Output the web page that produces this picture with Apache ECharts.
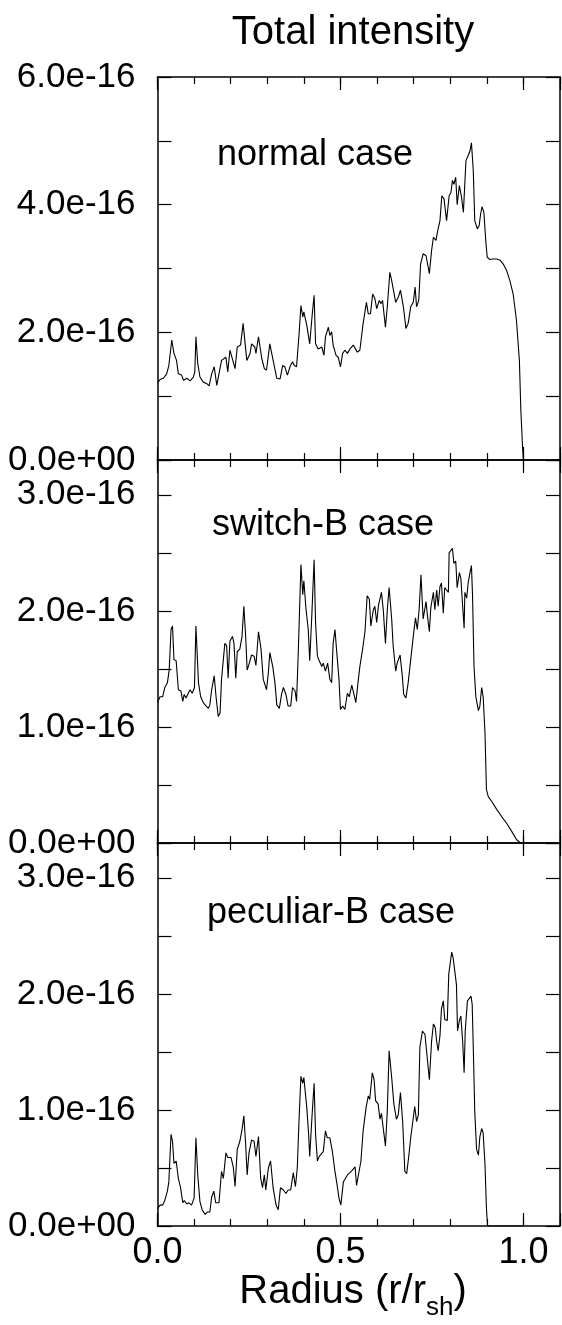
<!DOCTYPE html>
<html>
<head>
<meta charset="utf-8">
<script src="https://cdn.jsdelivr.net/npm/echarts@6/dist/echarts.min.js"></script>
<style>
  html, body { margin: 0; padding: 0; background: #fff; }
  #chart { width: 562px; height: 1325px; }
</style>
</head>
<body>
<div id="chart"></div>
<script>
// values are in units of 1e-16
const normalX = [0.000,0.007,0.016,0.025,0.031,0.039,0.045,0.052,0.057,0.066,0.071,0.080,0.089,0.098,0.102,0.105,0.110,0.116,0.125,0.134,0.141,0.148,0.155,0.162,0.166,0.175,0.180,0.187,0.192,0.198,0.203,0.212,0.218,0.227,0.234,0.244,0.253,0.257,0.266,0.269,0.276,0.285,0.292,0.298,0.307,0.316,0.326,0.335,0.342,0.348,0.355,0.362,0.369,0.374,0.380,0.387,0.392,0.397,0.400,0.408,0.416,0.423,0.428,0.432,0.439,0.449,0.455,0.459,0.467,0.471,0.476,0.480,0.488,0.494,0.500,0.506,0.512,0.519,0.526,0.535,0.540,0.546,0.553,0.562,0.571,0.576,0.582,0.588,0.594,0.599,0.606,0.611,0.615,0.623,0.628,0.635,0.640,0.651,0.658,0.664,0.672,0.679,0.685,0.692,0.699,0.704,0.708,0.714,0.719,0.726,0.734,0.743,0.749,0.754,0.761,0.765,0.772,0.777,0.783,0.790,0.797,0.802,0.806,0.810,0.815,0.819,0.825,0.831,0.836,0.843,0.849,0.854,0.858,0.863,0.867,0.874,0.879,0.883,0.887,0.892,0.897,0.901,0.908,0.917,0.927,0.936,0.945,0.954,0.963,0.972,0.981,0.989,0.993,0.998,1.000];
const normalY = [1.21,1.26,1.28,1.35,1.48,1.88,1.67,1.56,1.35,1.33,1.25,1.28,1.24,1.30,1.38,1.93,1.51,1.30,1.22,1.20,1.16,1.35,1.46,1.17,1.15,1.56,1.54,1.61,1.38,1.72,1.69,1.43,1.77,1.80,2.14,1.56,1.67,1.82,1.77,1.67,1.93,1.59,1.43,1.41,1.82,1.56,1.28,1.27,1.48,1.46,1.33,1.46,1.54,1.48,1.46,1.98,2.42,2.24,2.32,2.11,1.82,2.29,2.58,1.82,1.74,1.77,1.64,1.93,2.08,1.95,2.01,1.80,1.64,1.61,1.46,1.67,1.72,1.67,1.74,1.80,1.82,1.69,1.72,2.14,2.47,2.29,2.29,2.60,2.53,2.37,2.50,2.45,2.50,2.08,2.40,2.94,2.81,2.47,2.55,2.66,2.40,2.06,2.14,2.40,2.47,2.71,2.40,2.50,3.07,3.23,3.20,2.92,3.28,3.49,3.44,3.57,3.75,4.14,4.09,3.75,4.14,4.19,4.38,4.32,4.43,4.00,4.30,4.11,3.88,4.69,4.77,4.84,4.97,4.53,3.75,3.62,3.67,3.85,3.97,3.88,3.44,3.18,3.14,3.15,3.15,3.13,3.07,2.97,2.81,2.60,2.19,1.56,0.78,0.16,0.00];

const switchX = [0.000,0.007,0.014,0.020,0.027,0.032,0.037,0.041,0.045,0.051,0.057,0.064,0.069,0.073,0.078,0.084,0.089,0.095,0.101,0.105,0.112,0.118,0.125,0.133,0.139,0.143,0.148,0.155,0.160,0.166,0.171,0.175,0.180,0.184,0.189,0.193,0.198,0.205,0.209,0.214,0.218,0.225,0.231,0.236,0.241,0.245,0.251,0.257,0.264,0.269,0.276,0.283,0.289,0.294,0.298,0.303,0.307,0.315,0.321,0.326,0.333,0.339,0.344,0.351,0.357,0.364,0.369,0.376,0.380,0.385,0.392,0.397,0.400,0.406,0.412,0.416,0.422,0.428,0.432,0.437,0.442,0.449,0.453,0.459,0.465,0.471,0.476,0.480,0.485,0.490,0.496,0.500,0.506,0.512,0.519,0.524,0.531,0.537,0.542,0.549,0.553,0.561,0.567,0.573,0.579,0.583,0.590,0.594,0.599,0.604,0.608,0.612,0.617,0.623,0.628,0.633,0.640,0.644,0.651,0.655,0.663,0.669,0.673,0.679,0.685,0.692,0.699,0.705,0.710,0.715,0.720,0.726,0.734,0.738,0.743,0.747,0.754,0.758,0.763,0.767,0.772,0.776,0.781,0.785,0.790,0.795,0.797,0.802,0.806,0.810,0.815,0.819,0.825,0.829,0.834,0.838,0.840,0.845,0.849,0.854,0.858,0.861,0.865,0.870,0.877,0.881,0.886,0.890,0.895,0.899,0.904,0.913,0.927,0.940,0.954,0.968,0.981,0.992];
const switchY = [1.21,1.26,1.26,1.34,1.38,1.49,1.84,1.87,1.58,1.57,1.32,1.31,1.22,1.28,1.25,1.29,1.32,1.29,1.34,1.87,1.38,1.26,1.21,1.18,1.16,1.19,1.32,1.44,1.26,1.09,1.12,1.41,1.42,1.72,1.70,1.42,1.74,1.78,1.72,1.42,1.65,1.67,1.78,2.04,1.78,1.49,1.55,1.62,1.61,1.53,1.82,1.67,1.41,1.36,1.32,1.47,1.64,1.52,1.38,1.19,1.16,1.28,1.34,1.28,1.18,1.18,1.34,1.31,1.22,1.67,2.40,2.14,2.26,2.01,1.84,1.57,1.98,2.44,1.90,1.61,1.57,1.52,1.55,1.48,1.55,1.41,1.38,1.72,1.84,1.64,1.41,1.15,1.18,1.15,1.29,1.26,1.36,1.28,1.21,1.41,1.52,1.68,1.82,2.13,2.10,1.87,2.01,2.04,1.90,2.05,2.04,2.16,2.01,1.72,2.01,2.20,1.93,1.70,1.48,1.55,1.62,1.44,1.28,1.25,1.38,1.58,1.78,1.94,1.84,2.01,2.31,1.93,2.08,1.95,1.82,2.03,2.16,2.01,2.18,2.04,2.21,2.24,1.98,2.20,2.18,2.16,2.50,2.49,2.54,2.41,2.43,2.20,2.33,2.28,2.04,1.85,2.16,2.11,2.24,2.33,2.39,2.13,1.52,1.26,1.14,1.18,1.34,1.26,0.95,0.46,0.40,0.36,0.29,0.23,0.17,0.10,0.03,0.00];

const peculiarX = [0.000,0.007,0.014,0.020,0.027,0.031,0.037,0.041,0.045,0.051,0.057,0.063,0.069,0.073,0.080,0.086,0.093,0.100,0.105,0.110,0.116,0.122,0.130,0.136,0.143,0.148,0.154,0.159,0.163,0.168,0.175,0.180,0.187,0.192,0.201,0.207,0.212,0.218,0.225,0.231,0.236,0.241,0.245,0.250,0.257,0.264,0.269,0.276,0.282,0.287,0.292,0.296,0.303,0.309,0.316,0.324,0.330,0.336,0.344,0.351,0.357,0.364,0.371,0.377,0.382,0.387,0.392,0.397,0.400,0.408,0.413,0.416,0.422,0.428,0.432,0.437,0.442,0.447,0.453,0.459,0.464,0.471,0.478,0.485,0.491,0.496,0.501,0.508,0.512,0.519,0.526,0.532,0.540,0.544,0.549,0.556,0.562,0.570,0.576,0.580,0.587,0.592,0.596,0.603,0.608,0.612,0.617,0.623,0.628,0.633,0.640,0.646,0.653,0.658,0.664,0.670,0.676,0.681,0.687,0.692,0.697,0.703,0.708,0.713,0.717,0.724,0.731,0.735,0.743,0.749,0.754,0.759,0.763,0.767,0.772,0.776,0.781,0.785,0.792,0.796,0.799,0.804,0.808,0.813,0.817,0.820,0.825,0.829,0.834,0.838,0.841,0.847,0.852,0.857,0.860,0.863,0.867,0.872,0.877,0.881,0.886,0.890,0.895,0.899,0.902,0.908,1.000];
const peculiarY = [0.15,0.18,0.18,0.22,0.30,0.38,0.79,0.73,0.54,0.56,0.41,0.33,0.20,0.22,0.19,0.20,0.18,0.24,0.76,0.44,0.21,0.14,0.10,0.12,0.12,0.25,0.30,0.20,0.21,0.20,0.47,0.41,0.63,0.59,0.59,0.51,0.34,0.66,0.73,0.83,0.95,0.70,0.44,0.63,0.74,0.73,0.60,0.77,0.41,0.33,0.44,0.31,0.50,0.56,0.33,0.18,0.14,0.33,0.31,0.28,0.31,0.31,0.46,0.34,0.50,0.93,1.29,1.23,1.28,1.02,0.79,0.60,0.93,1.23,0.79,0.56,0.60,0.60,0.64,0.82,0.76,0.76,0.64,0.47,0.35,0.24,0.18,0.38,0.40,0.44,0.46,0.48,0.51,0.35,0.34,0.56,0.82,1.02,1.12,1.09,1.32,1.26,1.08,1.05,0.92,0.97,0.84,0.69,0.99,1.51,1.28,1.05,0.92,0.96,1.15,0.90,0.47,0.45,0.61,0.76,0.77,1.03,0.90,0.96,1.54,1.68,1.65,1.64,1.26,1.59,1.74,1.71,1.59,1.51,1.64,1.87,1.94,1.78,1.77,2.17,2.17,2.36,2.31,2.31,2.08,1.68,1.77,1.81,1.59,1.32,1.68,1.94,1.94,1.98,1.91,1.54,0.99,0.66,0.61,0.77,0.84,0.80,0.53,0.15,0.00,0.00,0.00];

const panelNames = ['normal case', 'switch-B case', 'peculiar-B case'];
const yMaxes = [6, 3.3, 3.3];
const yTickSteps = [1, 0.5, 0.5];
const yLabelSteps = [2, 1, 1];
const yLabelMax = [6, 3, 3];
const xTickLabels = ['0.0', '0.5', '1.0'];

const panels = [
  { x: normalX, y: normalY },
  { x: switchX, y: switchY },
  { x: peculiarX, y: peculiarY }
];

const FONT = 'Liberation Sans';
const gridTops = [77, 460, 843];
const gridH = 383;

const chart = echarts.init(document.getElementById('chart'));

const grids = [], xAxes = [], yAxes = [], series = [], texts = [];
const line = { show: true, onZero: false, lineStyle: { color: '#000', width: 1.5 } };

panels.forEach(function (p, i) {
  grids.push({ left: 157.5, right: 2, top: gridTops[i], height: gridH, outerBoundsMode: 'none', containLabel: false });

  ['bottom', 'top'].forEach(function (pos) {
    xAxes.push({
      type: 'value', gridIndex: i, position: pos, min: 0, max: 1.1, interval: 0.1,
      axisLine: line,
      axisTick: { inside: true, length: 7, lineStyle: { color: '#000', width: 1.2 } },
      axisLabel: { show: false }, splitLine: { show: false }
    });
    const last = (i === 2 && pos === 'bottom');
    xAxes.push({
      type: 'value', gridIndex: i, position: pos, min: 0, max: 1.1, interval: 0.5,
      axisLine: { show: false, onZero: false },
      axisTick: { inside: true, length: 13, lineStyle: { color: '#000', width: 1.2 } },
      axisLabel: {
        show: last, margin: 9, color: '#000', fontFamily: FONT, fontSize: 36,
        formatter: function (v) {
          const k = Math.round(v * 2);
          return k < xTickLabels.length && Math.abs(v * 2 - k) < 1e-6 ? xTickLabels[k] : '';
        }
      },
      splitLine: { show: false }
    });
  });

  ['left', 'right'].forEach(function (pos) {
    yAxes.push({
      type: 'value', gridIndex: i, position: pos, min: 0, max: yMaxes[i], interval: yTickSteps[i],
      axisLine: line,
      axisTick: { inside: true, length: 14, lineStyle: { color: '#000', width: 1.2 } },
      axisLabel: {
        show: pos === 'left', margin: 22, color: '#000', fontFamily: FONT, fontSize: 35,
        formatter: function (v) {
          const k = Math.round(v * 10) / 10;
          if (Math.abs(k) < 1e-9) return '0.0e+00';
          if (k > yLabelMax[i] + 1e-6) return '';
          if (Math.abs(k / yLabelSteps[i] - Math.round(k / yLabelSteps[i])) > 1e-6) return '';
          return k.toFixed(1) + 'e-16';
        }
      },
      splitLine: { show: false }
    });
  });

  series.push({
    type: 'line', xAxisIndex: i * 4, yAxisIndex: i * 2,
    data: p.x.map(function (x, j) { return [x, p.y[j]]; }),
    showSymbol: false, symbol: 'none', smooth: false,
    lineStyle: { color: '#000', width: 1.1 }
  });
});

const labelPos = [[217, 137], [212, 507], [207, 895]];
panelNames.forEach(function (name, i) {
  texts.push({
    type: 'text', x: labelPos[i][0], y: labelPos[i][1],
    style: { text: name, font: '36px "' + FONT + '"', fill: '#000', textVerticalAlign: 'top' }
  });
});
texts.push({
  type: 'text', x: 353, y: 13,
  style: { text: 'Total intensity', font: '40px "' + FONT + '"', fill: '#000', textAlign: 'center', textVerticalAlign: 'top' }
});
// x axis title with subscript
texts.push({
  type: 'text', x: 353, y: 1263,
  style: {
    text: '{a|Radius (r/r}{b|sh}{a|)}', textAlign: 'center', textVerticalAlign: 'top',
    rich: {
      a: { fontFamily: FONT, fontSize: 40, fill: '#000', lineHeight: 58, verticalAlign: 'middle' },
      b: { fontFamily: FONT, fontSize: 26, fill: '#000', lineHeight: 58, verticalAlign: 'bottom' }
    }
  }
});

chart.setOption({
  animation: false,
  grid: grids,
  xAxis: xAxes,
  yAxis: yAxes,
  series: series,
  graphic: texts
});
</script>
</body>
</html>
